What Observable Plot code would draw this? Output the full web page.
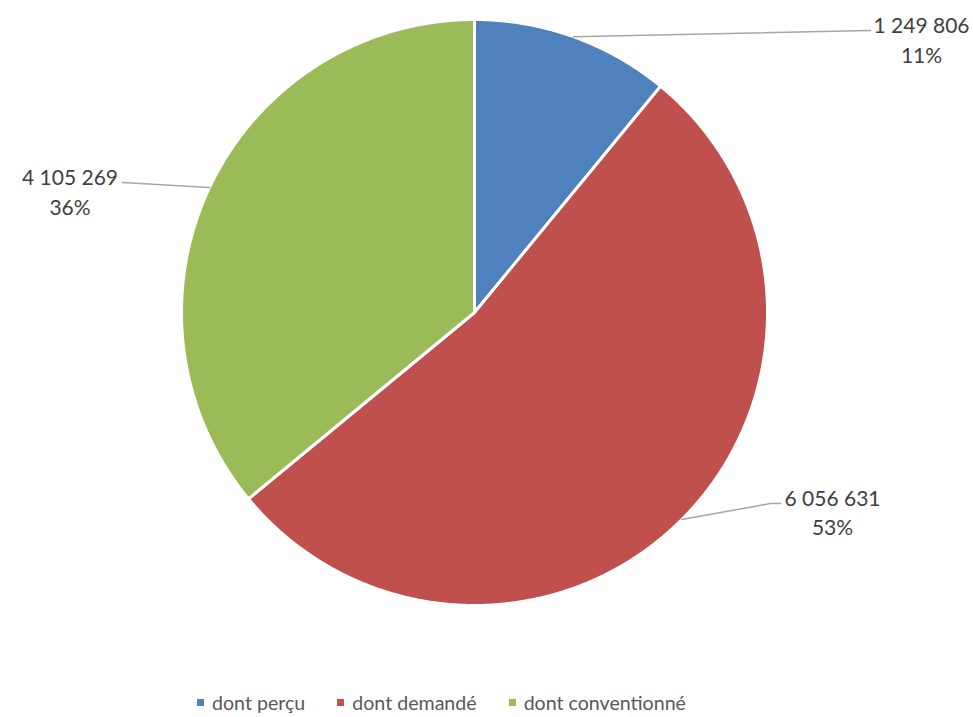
<!DOCTYPE html>
<html><head><meta charset="utf-8">
<script src="https://cdn.jsdelivr.net/npm/d3@7"></script>
<script src="https://cdn.jsdelivr.net/npm/@observablehq/plot@0.6"></script>
<style>
body{margin:0;background:#fff;font-family:Lato,"Liberation Sans",sans-serif;}
#legend{display:flex;padding-left:197px;padding-top:8px;height:29px;align-items:center;font-size:19.6px;color:#595959;}
.item{display:flex;align-items:center;margin-right:32px;}
.sw{width:7px;height:7px;margin-right:8px;}
</style></head><body>
<div id="chart"></div><div id="legend"></div>
<script>
// ---- data ----
const categories = ["dont perçu", "dont demandé", "dont conventionné"];
const values = [1249806, 6056631, 4105269];
const colors = ["#4F81BD", "#C0504D", "#9BBB59"];

// ---- layout ----
const W = 973, H = 680, cx = 474, cy = 312, R = 293;
// label block centres and leader elbows in pie-radius units (layout only)
const labelAt = [[1.5256, 0.935], [1.2218, -0.6775], [-1.3805, 0.4164]];
const leaderBends = [[[1.3515, 0.9625]], [[1.0102, -0.6519], [1.0444, -0.6519]], [[-1.2014, 0.4437]]];

const total = d3.sum(values);
const loc = d3.formatLocale({decimal: ",", thousands: " ", grouping: [3], currency: ["", " €"]});
const fmt = loc.format(",d");

const arcs = d3.pie().sort(null).value(d => d)(values);
const slicePts = [];
arcs.forEach((a, i) => {
  const cat = categories[i];
  slicePts.push({x: 0, y: 0, cat});
  const n = Math.max(2, Math.ceil((a.endAngle - a.startAngle) / 0.005));
  for (let k = 0; k <= n; k++) {
    const t = a.startAngle + (a.endAngle - a.startAngle) * k / n;
    slicePts.push({x: Math.sin(t), y: Math.cos(t), cat});
  }
  slicePts.push({x: 0, y: 0, cat});
});

const leaderPts = [];
arcs.forEach((a, i) => {
  const m = (a.startAngle + a.endAngle) / 2;
  leaderPts.push({x: Math.sin(m), y: Math.cos(m), cat: categories[i]});
  leaderBends[i].forEach(p => leaderPts.push({x: p[0], y: p[1], cat: categories[i]}));
});

const labels = values.map((v, i) => ({
  x: labelAt[i][0], y: labelAt[i][1],
  text: fmt(v) + "\n" + Math.round(v / total * 100) + "%"
}));

const chart = Plot.plot({
  width: W, height: H,
  marginLeft: cx - R, marginRight: W - (cx + R),
  marginTop: cy - R, marginBottom: H - (cy + R),
  x: {domain: [-1, 1], axis: null},
  y: {domain: [-1, 1], axis: null},
  color: {domain: categories, range: colors},
  style: {fontFamily: "Lato, 'Liberation Sans', sans-serif", background: "#fff"},
  marks: [
    Plot.line(slicePts, {x: "x", y: "y", z: "cat", fill: "cat", stroke: "#fff", strokeWidth: 3, strokeLinejoin: "round", curve: "linear"}),
    Plot.line(leaderPts, {x: "x", y: "y", z: "cat", stroke: "#a6a6a6", strokeWidth: 1.5, curve: "linear"}),
    Plot.text(labels, {x: "x", y: "y", text: "text", fontSize: 21, lineHeight: 1.4, fill: "#404040", textAnchor: "middle"})
  ]
});
document.getElementById("chart").appendChild(chart);

const lg = document.getElementById("legend");
categories.forEach((c, i) => {
  const it = document.createElement("div"); it.className = "item";
  const sw = document.createElement("span"); sw.className = "sw"; sw.style.background = colors[i];
  const tx = document.createElement("span"); tx.textContent = c;
  it.appendChild(sw); it.appendChild(tx); lg.appendChild(it);
});
</script>
</body></html>
